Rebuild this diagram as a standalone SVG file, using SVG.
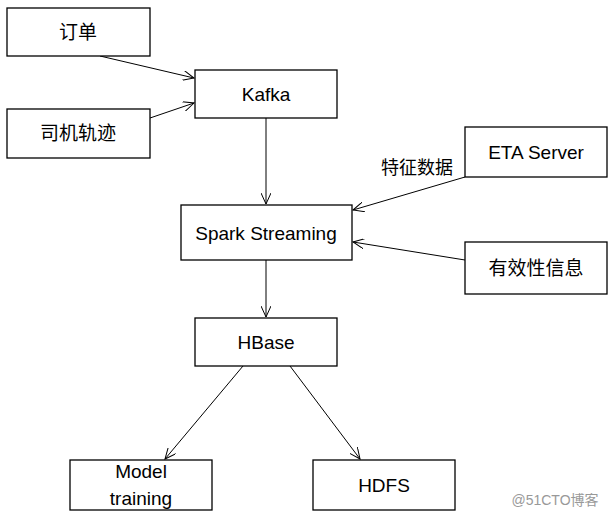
<svg xmlns="http://www.w3.org/2000/svg" width="612" height="516" viewBox="0 0 612 516">
<style>
.b{fill:#fff;stroke:#000;stroke-width:1.3}
.t{font-family:"Liberation Sans","Noto Sans CJK SC",sans-serif;font-size:19px;fill:#000;text-anchor:middle;dominant-baseline:central}
.c{stroke:#000;stroke-width:1;fill:none;marker-end:url(#a)}
</style>
<defs><marker id="a" markerWidth="12" markerHeight="10" refX="11" refY="5" orient="auto" markerUnits="userSpaceOnUse"><path d="M0,0 L11,5 L0,10" fill="none" stroke="#000" stroke-width="1"/></marker></defs>
<rect width="612" height="516" fill="#fff"/>
<g id="connectors">
<line class="c" x1="100" y1="56" x2="194" y2="78"/>
<line class="c" x1="150" y1="118" x2="194" y2="103"/>
<line class="c" x1="266" y1="118" x2="266" y2="204"/>
<line class="c" x1="465" y1="177" x2="353" y2="210"/>
<line class="c" x1="465" y1="260" x2="353" y2="242"/>
<line class="c" x1="266" y1="260" x2="266" y2="317"/>
<line class="c" x1="243" y1="366" x2="165" y2="459"/>
<line class="c" x1="290" y1="366" x2="360" y2="459"/>
<text class="t" x="417" y="168" style="font-size:18px">特征数据</text>
</g>
<g id="n1"><rect class="b" x="7" y="8" width="143" height="48"/><text class="t" x="78" y="32">订单</text></g>
<g id="n2"><rect class="b" x="7" y="109" width="143" height="49"/><text class="t" x="78" y="133">司机轨迹</text></g>
<g id="n3"><rect class="b" x="195" y="70" width="142" height="48"/><text class="t" x="266" y="94">Kafka</text></g>
<g id="n4"><rect class="b" x="181" y="205" width="171" height="55"/><text class="t" x="266" y="233">Spark Streaming</text></g>
<g id="n5"><rect class="b" x="465" y="127" width="142" height="50"/><text class="t" x="536" y="152">ETA Server</text></g>
<g id="n6"><rect class="b" x="465" y="242" width="142" height="52"/><text class="t" x="536" y="268">有效性信息</text></g>
<g id="n7"><rect class="b" x="195" y="318" width="142" height="48"/><text class="t" x="266" y="342">HBase</text></g>
<g id="n8"><rect class="b" x="70" y="460" width="142" height="50"/><text class="t" x="141" y="471">Model</text><text class="t" x="141" y="498">training</text></g>
<g id="n9"><rect class="b" x="313" y="460" width="142" height="50"/><text class="t" x="384" y="485">HDFS</text></g>
<text x="555" y="505" style="font-family:'Liberation Sans','Noto Sans CJK SC',sans-serif;font-size:14px;fill:#999;text-anchor:middle">@51CTO博客</text>
</svg>
